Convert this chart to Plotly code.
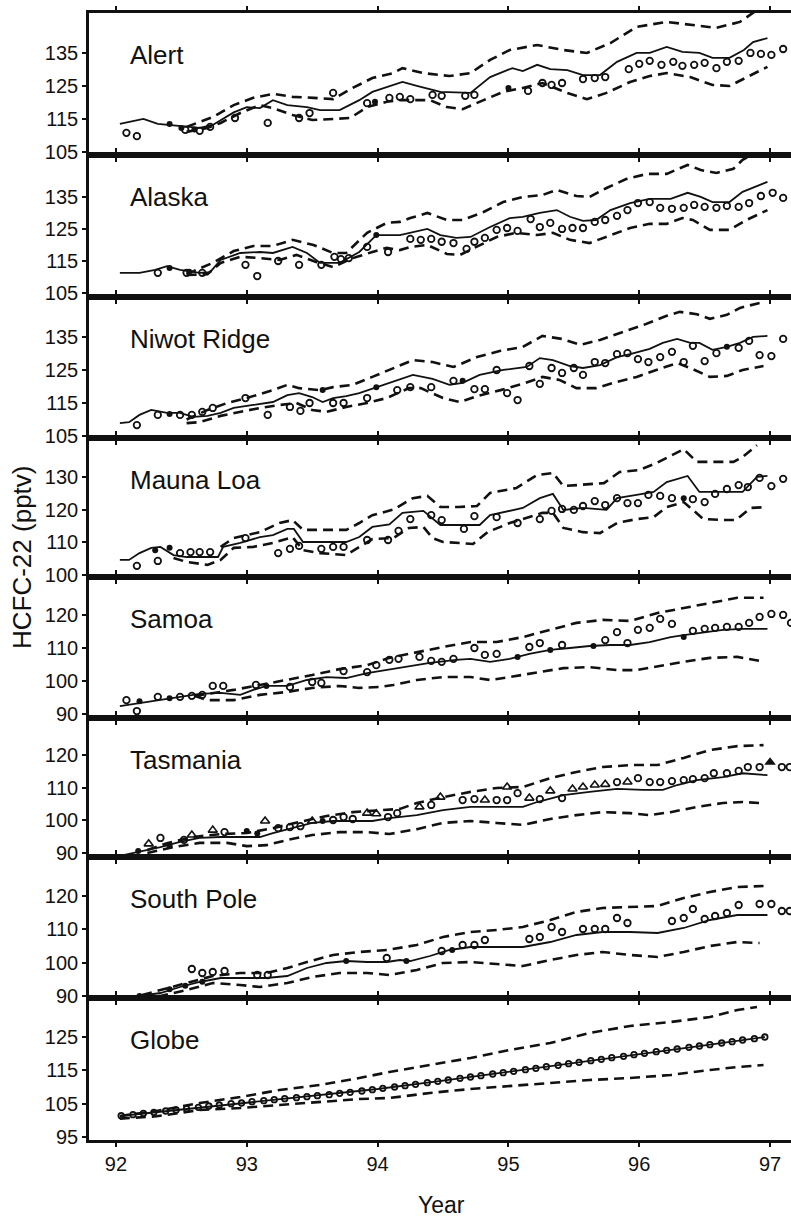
import plotly.graph_objects as go

# ---------------------------------------------------------------
# HCFC-22 mixing ratios (pptv) at surface stations, 1992-1997:
# solid = model, dashed = model upper/lower bounds, symbols = observations
# ---------------------------------------------------------------
STATIONS = ["Alert", "Alaska", "Niwot Ridge", "Mauna Loa",
            "Samoa", "Tasmania", "South Pole", "Globe"]
X_TICKS = [92, 93, 94, 95, 96, 97]
Y_TICKS = [[105, 115, 125, 135], [105, 115, 125, 135], [105, 115, 125, 135],
           [100, 110, 120, 130], [90, 100, 110, 120], [90, 100, 110, 120],
           [90, 100, 110, 120], [95, 105, 115, 125]]

# ---- Alert ----
ALERT_MODEL_YR = [92.03, 92.21, 92.32, 92.54, 92.64, 92.74, 92.90, 93.00, 93.10, 93.20,
                  93.31, 93.46, 93.56, 93.71, 93.86, 93.96, 94.07, 94.19, 94.30, 94.48,
                  94.71, 94.86, 95.03, 95.11, 95.22, 95.32, 95.45, 95.57, 95.70, 95.83,
                  95.98, 96.08, 96.21, 96.33, 96.46, 96.56, 96.69, 96.80, 96.87, 96.98]
ALERT_MODEL = [113.5, 115.0, 113.5, 112.6, 112.3, 113.2, 117.0, 118.6, 118.3, 120.7,
               119.2, 118.6, 117.7, 117.7, 120.7, 123.2, 124.7, 126.2, 125.0, 123.2,
               122.9, 127.7, 130.4, 129.5, 131.4, 130.1, 129.8, 128.3, 128.3, 132.3,
               135.0, 135.0, 136.8, 135.3, 135.0, 133.5, 133.5, 135.9, 138.3, 139.5]
ALERT_HI_YR = [92.54, 92.74, 92.90, 93.05, 93.20, 93.35, 93.51, 93.66, 93.81, 93.96,
               94.12, 94.19, 94.35, 94.55, 94.71, 94.86, 95.01, 95.22, 95.42, 95.60,
               95.78, 95.98, 96.21, 96.39, 96.59, 96.77, 96.90, 97.00]
ALERT_HI = [112.6, 115.6, 119.2, 121.4, 122.6, 121.7, 121.4, 121.0, 124.4, 127.4,
            128.9, 130.4, 128.9, 128.0, 128.9, 132.9, 135.9, 137.4, 135.9, 135.0,
            138.0, 142.9, 144.4, 143.5, 142.6, 144.4, 148.0, 150.0]
ALERT_LO_YR = [92.54, 92.70, 92.80, 92.95, 93.10, 93.20, 93.35, 93.50, 93.66, 93.79,
               93.92, 94.07, 94.17, 94.40, 94.53, 94.65, 94.81, 94.96, 95.11, 95.26,
               95.45, 95.60, 95.75, 95.93, 96.08, 96.21, 96.39, 96.56, 96.69, 96.82, 96.98]
ALERT_LO = [111.1, 112.3, 113.8, 116.8, 119.2, 118.3, 116.2, 114.7, 115.0, 115.3,
            118.6, 120.2, 120.7, 120.7, 118.6, 118.0, 120.7, 123.2, 124.4, 125.9,
            122.9, 121.0, 122.9, 126.2, 128.0, 128.9, 127.7, 125.3, 125.0, 127.7, 130.8]
ALERT_OBS_YR = [92.08, 92.16, 92.53, 92.64, 92.72, 92.91, 93.16, 93.40, 93.48, 93.66,
                93.92, 94.09, 94.17, 94.25, 94.42, 94.49, 94.67, 94.74, 95.15, 95.26,
                95.33, 95.41, 95.57, 95.66, 95.74, 95.92, 96.00, 96.08, 96.17, 96.26,
                96.33, 96.42, 96.50, 96.59, 96.67, 96.76, 96.85, 96.93, 97.01, 97.10]
ALERT_OBS = [110.8, 109.8, 111.7, 111.4, 112.6, 115.3, 113.8, 115.3, 116.8, 122.9,
             119.8, 121.4, 121.7, 121.0, 122.3, 122.0, 122.0, 122.3, 123.5, 125.9,
             125.3, 125.9, 127.1, 127.4, 127.7, 130.1, 131.7, 132.6, 131.4, 132.3,
             131.1, 131.4, 132.0, 130.4, 132.3, 132.6, 135.0, 134.7, 134.4, 136.2]
ALERT_DOT_YR = [92.41, 92.50, 92.60, 93.98, 95.00]
ALERT_DOT = [113.5, 112.3, 111.8, 120.2, 124.4]

# ---- Alaska ----
ALASKA_MODEL_YR = [92.03, 92.18, 92.30, 92.39, 92.49, 92.64, 92.72, 92.80, 92.95, 93.10,
                   93.20, 93.35, 93.46, 93.56, 93.71, 93.86, 93.99, 94.17, 94.38, 94.48,
                   94.60, 94.71, 94.86, 95.01, 95.11, 95.24, 95.37, 95.47, 95.57, 95.67,
                   95.78, 95.93, 96.08, 96.24, 96.37, 96.47, 96.56, 96.69, 96.79, 96.98]
ALASKA_MODEL = [111.3, 111.3, 112.2, 113.4, 112.2, 111.3, 111.5, 115.3, 117.5, 117.8,
                117.5, 119.4, 117.5, 114.4, 114.4, 117.8, 123.1, 123.1, 125.0, 123.1,
                122.2, 122.5, 125.6, 128.4, 128.8, 130.0, 130.9, 128.8, 127.5, 127.8,
                130.9, 133.1, 134.4, 134.4, 136.3, 135.0, 133.4, 133.4, 136.6, 139.7]
ALASKA_HI_YR = [92.54, 92.74, 92.90, 93.05, 93.20, 93.35, 93.51, 93.66, 93.76, 93.92,
                94.07, 94.17, 94.25, 94.38, 94.53, 94.65, 94.81, 94.96, 95.11, 95.26,
                95.37, 95.52, 95.62, 95.75, 95.90, 96.06, 96.21, 96.37, 96.47, 96.59,
                96.72, 96.79, 96.95]
ALASKA_HI = [110.9, 114.4, 118.1, 119.7, 119.7, 121.6, 120.0, 117.5, 117.5, 123.8,
             126.9, 127.2, 128.4, 130.0, 127.8, 127.8, 130.3, 133.4, 135.0, 135.6,
             137.2, 135.3, 135.0, 137.8, 140.6, 142.2, 142.2, 145.0, 143.4, 142.5,
             143.8, 146.6, 150.0]
ALASKA_LO_YR = [92.54, 92.70, 92.80, 92.95, 93.10, 93.25, 93.38, 93.53, 93.66, 93.81,
                93.96, 94.07, 94.17, 94.25, 94.38, 94.53, 94.63, 94.76, 94.91, 95.06,
                95.22, 95.34, 95.47, 95.62, 95.78, 95.93, 96.08, 96.21, 96.33, 96.41,
                96.54, 96.69, 96.82, 96.98]
ALASKA_LO = [110.6, 110.9, 114.4, 116.3, 115.9, 115.3, 116.9, 114.7, 113.1, 115.9,
             117.8, 119.1, 118.4, 119.4, 120.0, 117.2, 116.9, 119.4, 122.5, 123.8,
             123.1, 123.8, 121.6, 120.6, 123.1, 125.3, 126.6, 126.6, 128.4, 127.8,
             124.7, 124.7, 127.8, 130.9]
ALASKA_OBS_YR = [92.32, 92.54, 92.66, 92.99, 93.08, 93.24, 93.40, 93.57, 93.67, 93.72,
                 93.78, 93.92, 94.08, 94.25, 94.33, 94.41, 94.49, 94.58, 94.68, 94.74,
                 94.82, 94.91, 94.99, 95.07, 95.17, 95.24, 95.32, 95.41, 95.49, 95.57,
                 95.66, 95.74, 95.83, 95.91, 95.99, 96.08, 96.16, 96.25, 96.34, 96.42,
                 96.50, 96.59, 96.67, 96.76, 96.84, 96.93, 97.02, 97.10]
ALASKA_OBS = [111.3, 111.3, 111.3, 113.8, 110.3, 115.0, 113.8, 113.8, 116.3, 115.6,
              115.9, 119.4, 117.8, 121.9, 121.6, 121.9, 121.0, 120.6, 118.8, 121.0,
              122.2, 124.7, 125.3, 124.4, 128.1, 125.6, 126.9, 125.0, 125.3, 125.3,
              127.2, 127.8, 129.1, 130.9, 133.1, 133.4, 131.6, 131.3, 131.6, 132.5,
              131.9, 131.6, 132.2, 131.9, 133.1, 135.3, 136.3, 134.7]
ALASKA_DOT_YR = [92.41, 92.56, 93.99]
ALASKA_DOT = [112.8, 111.6, 123.1]

# ---- Niwot Ridge ----
NIWOT_MODEL_YR = [92.03, 92.10, 92.18, 92.27, 92.39, 92.49, 92.59, 92.70, 92.80, 92.90,
                  93.05, 93.20, 93.31, 93.40, 93.50, 93.58, 93.66, 93.76, 93.86, 93.99,
                  94.12, 94.27, 94.42, 94.55, 94.65, 94.78, 94.96, 95.14, 95.24, 95.34,
                  95.47, 95.57, 95.70, 95.83, 95.93, 96.08, 96.18, 96.29, 96.39, 96.46,
                  96.56, 96.67, 96.77, 96.87, 96.98]
NIWOT_MODEL = [108.9, 109.2, 111.4, 112.9, 112.0, 112.0, 110.8, 111.1, 112.0, 113.5,
               114.4, 115.3, 117.4, 118.0, 116.8, 115.3, 116.5, 117.1, 118.0, 119.8,
               121.5, 123.5, 122.3, 120.5, 121.1, 123.5, 125.0, 125.9, 128.6, 128.0,
               126.2, 125.6, 126.5, 128.9, 129.8, 131.4, 133.2, 134.4, 133.2, 133.2,
               131.1, 132.0, 133.2, 135.0, 135.3]
NIWOT_HI_YR = [92.54, 92.70, 92.85, 93.00, 93.20, 93.31, 93.40, 93.56, 93.66, 93.81,
               93.96, 94.12, 94.27, 94.42, 94.58, 94.76, 94.94, 95.11, 95.26, 95.41,
               95.55, 95.70, 95.85, 96.03, 96.21, 96.31, 96.44, 96.54, 96.67, 96.77,
               96.92]
NIWOT_HI = [110.0, 112.9, 115.0, 116.5, 118.9, 120.5, 119.5, 118.9, 119.8, 120.5,
            122.9, 125.5, 128.0, 127.4, 125.9, 128.9, 130.8, 132.0, 135.3, 134.4,
            132.6, 134.1, 136.2, 138.6, 141.4, 142.6, 141.9, 140.5, 141.7, 143.8,
            145.3]
NIWOT_LO_YR = [92.54, 92.64, 92.80, 92.95, 93.10, 93.25, 93.38, 93.50, 93.61, 93.76,
               93.92, 94.07, 94.24, 94.33, 94.50, 94.63, 94.76, 94.94, 95.11, 95.26,
               95.39, 95.52, 95.67, 95.83, 95.98, 96.13, 96.29, 96.39, 96.54, 96.67,
               96.79, 96.95]
NIWOT_LO = [108.9, 109.2, 111.1, 112.3, 113.5, 114.4, 115.0, 112.9, 112.3, 113.8,
            115.0, 116.5, 119.5, 119.5, 116.5, 115.3, 117.1, 118.9, 120.8, 122.9,
            122.0, 119.5, 119.5, 121.4, 122.9, 125.0, 127.1, 125.6, 122.9, 123.2,
            125.0, 126.2]
NIWOT_OBS_YR = [92.16, 92.32, 92.49, 92.58, 92.66, 92.74, 92.99, 93.16, 93.33, 93.41,
                93.48, 93.66, 93.74, 93.92, 94.15, 94.25, 94.41, 94.58, 94.74, 94.82,
                94.91, 94.99, 95.07, 95.16, 95.24, 95.33, 95.41, 95.50, 95.57, 95.66,
                95.74, 95.83, 95.91, 95.99, 96.07, 96.16, 96.25, 96.34, 96.41, 96.50,
                96.59, 96.76, 96.84, 96.92, 97.01, 97.10]
NIWOT_OBS = [108.3, 111.4, 111.4, 111.4, 112.3, 113.5, 116.5, 111.4, 113.8, 112.6,
             115.0, 115.0, 115.0, 116.5, 118.9, 119.8, 119.8, 121.7, 119.2, 119.2,
             125.0, 118.0, 115.9, 126.2, 120.8, 125.6, 124.1, 125.6, 123.5, 127.4,
             127.1, 129.8, 130.1, 128.3, 127.4, 128.9, 130.5, 127.4, 132.3, 127.7,
             130.1, 131.7, 133.8, 129.5, 129.2, 134.4]
NIWOT_DOT_YR = [92.41, 93.58, 93.99, 94.65, 96.67]
NIWOT_DOT = [111.7, 118.9, 119.8, 121.7, 132.0]

# ---- Mauna Loa ----
MAUNA_MODEL_YR = [92.03, 92.10, 92.18, 92.27, 92.34, 92.44, 92.54, 92.64, 92.78, 92.82,
                  92.95, 93.10, 93.20, 93.31, 93.36, 93.43, 93.56, 93.76, 93.86, 93.96,
                  94.09, 94.19, 94.35, 94.48, 94.60, 94.78, 94.86, 95.11, 95.24, 95.34,
                  95.42, 95.57, 95.75, 95.83, 95.98, 96.11, 96.21, 96.37, 96.46, 96.64,
                  96.79, 96.90, 96.98]
MAUNA_MODEL = [104.6, 104.6, 106.7, 108.3, 108.6, 106.1, 105.5, 105.5, 105.5, 108.6,
               109.8, 111.6, 112.2, 114.1, 114.1, 110.1, 110.1, 110.1, 111.6, 114.7,
               115.5, 119.0, 119.6, 115.3, 115.3, 115.3, 118.3, 120.5, 123.5, 124.8,
               119.9, 120.5, 119.9, 123.5, 124.5, 125.4, 128.4, 130.3, 125.4, 125.4,
               125.4, 130.0, 130.3]
MAUNA_HI_YR = [92.80, 92.90, 93.10, 93.25, 93.35, 93.43, 93.56, 93.76, 93.86, 93.96,
               94.12, 94.27, 94.38, 94.48, 94.62, 94.76, 94.86, 95.06, 95.22, 95.34,
               95.42, 95.63, 95.73, 95.85, 96.00, 96.13, 96.34, 96.44, 96.60, 96.72,
               96.79, 96.90]
MAUNA_HI = [108.6, 111.3, 113.1, 115.9, 116.8, 113.8, 113.8, 113.8, 115.9, 118.3,
            120.0, 123.5, 124.2, 120.8, 120.8, 121.1, 125.1, 126.6, 130.6, 131.2,
            127.2, 127.8, 128.1, 131.5, 132.1, 134.2, 138.5, 134.6, 134.6, 134.6,
            136.1, 139.7]
MAUNA_LO_YR = [92.44, 92.54, 92.70, 92.80, 92.90, 93.05, 93.20, 93.35, 93.43, 93.56,
               93.76, 93.86, 93.96, 94.12, 94.24, 94.35, 94.42, 94.50, 94.73, 94.84,
               95.01, 95.26, 95.34, 95.42, 95.57, 95.70, 95.83, 95.98, 96.11, 96.21,
               96.34, 96.41, 96.49, 96.64, 96.74, 96.85, 96.98]
MAUNA_LO = [105.2, 104.0, 103.1, 104.6, 108.3, 108.6, 109.8, 111.6, 107.6, 106.7,
            106.1, 108.6, 111.0, 111.3, 114.4, 114.7, 111.3, 110.1, 109.5, 113.1,
            115.9, 119.0, 119.0, 114.4, 113.1, 112.8, 115.9, 117.1, 117.7, 120.8,
            122.3, 119.9, 117.1, 116.8, 116.8, 120.5, 120.8]
MAUNA_OBS_YR = [92.16, 92.32, 92.49, 92.57, 92.64, 92.72, 92.99, 93.24, 93.33, 93.40,
                93.57, 93.66, 93.74, 93.92, 94.08, 94.16, 94.25, 94.41, 94.49, 94.66,
                94.74, 94.91, 95.07, 95.24, 95.33, 95.41, 95.50, 95.57, 95.66, 95.74,
                95.83, 95.91, 95.99, 96.07, 96.16, 96.25, 96.41, 96.50, 96.58, 96.67,
                96.76, 96.83, 96.92, 97.01, 97.10]
MAUNA_OBS = [102.8, 104.3, 106.7, 107.0, 107.0, 107.0, 111.3, 106.7, 108.0, 108.9,
             108.0, 108.6, 108.6, 110.7, 110.7, 113.5, 117.1, 118.3, 116.8, 114.1,
             118.0, 117.7, 115.9, 117.1, 119.6, 120.2, 119.9, 121.1, 122.6, 121.4,
             123.5, 122.0, 122.0, 124.5, 124.2, 123.5, 123.2, 122.3, 124.8, 126.3,
             127.5, 126.9, 129.7, 127.2, 129.4]
MAUNA_DOT_YR = [92.30, 92.41, 96.34]
MAUNA_DOT = [107.6, 108.3, 123.5]

# ---- Samoa ----
SAMOA_MODEL_YR = [92.03, 92.18, 92.34, 92.49, 92.64, 92.80, 92.95, 93.05, 93.15, 93.31,
                  93.46, 93.61, 93.76, 93.92, 94.07, 94.25, 94.40, 94.60, 94.71, 94.86,
                  95.01, 95.16, 95.32, 95.47, 95.62, 95.78, 95.93, 96.08, 96.24, 96.34,
                  96.49, 96.64, 96.79, 96.98]
SAMOA_MODEL = [92.4, 93.3, 94.2, 95.2, 96.1, 96.4, 95.8, 97.3, 98.5, 98.5,
               100.3, 101.2, 100.9, 102.4, 103.3, 104.5, 105.5, 106.4, 106.7, 105.8,
               106.7, 108.2, 109.4, 110.0, 110.6, 110.9, 110.9, 111.8, 113.3, 113.9,
               114.8, 115.5, 115.8, 115.8]
SAMOA_HI_YR = [92.60, 92.70, 92.90, 93.10, 93.31, 93.50, 93.71, 93.92, 94.09, 94.30,
               94.50, 94.71, 94.91, 95.11, 95.32, 95.52, 95.72, 95.93, 96.14, 96.34,
               96.54, 96.75, 96.95]
SAMOA_HI = [95.5, 96.1, 97.3, 98.8, 100.3, 101.8, 103.6, 104.8, 107.0, 108.8,
            110.3, 111.8, 111.8, 113.3, 115.5, 117.6, 118.5, 118.2, 120.6, 122.1,
            123.6, 125.2, 125.2]
SAMOA_LO_YR = [92.60, 92.70, 92.90, 93.10, 93.31, 93.50, 93.71, 93.86, 94.02, 94.12,
               94.30, 94.50, 94.71, 94.86, 95.01, 95.22, 95.42, 95.62, 95.83, 95.98,
               96.14, 96.34, 96.54, 96.75, 96.92]
SAMOA_LO = [95.5, 94.2, 94.2, 95.8, 96.7, 97.9, 98.5, 97.9, 98.2, 98.8,
            100.3, 101.2, 101.2, 100.3, 101.2, 102.7, 103.9, 104.2, 103.3, 103.3,
            104.5, 105.8, 107.0, 107.3, 106.1]
SAMOA_OBS_YR = [92.08, 92.16, 92.32, 92.49, 92.58, 92.66, 92.74, 92.82, 93.07, 93.33,
                93.50, 93.57, 93.74, 93.92, 93.99, 94.09, 94.16, 94.32, 94.41, 94.49,
                94.58, 94.74, 94.82, 94.91, 95.16, 95.24, 95.41, 95.74, 95.83, 95.91,
                95.99, 96.08, 96.16, 96.25, 96.41, 96.50, 96.58, 96.67, 96.76, 96.84,
                96.92, 97.01, 97.10, 97.16]
SAMOA_OBS = [94.2, 90.9, 95.2, 95.2, 95.5, 95.8, 98.5, 98.5, 98.8, 98.2,
             99.7, 99.4, 103.0, 102.7, 104.8, 106.4, 106.7, 107.3, 106.1, 105.8,
             106.7, 110.0, 107.9, 108.2, 110.3, 111.5, 110.9, 112.4, 114.8, 111.5,
             115.5, 116.1, 118.8, 117.3, 115.2, 115.8, 116.1, 116.4, 116.4, 117.6,
             119.4, 120.3, 120.0, 117.6]
SAMOA_DOT_YR = [92.18, 92.41, 93.15, 95.07, 95.32, 95.65, 96.34]
SAMOA_DOT = [93.9, 94.8, 98.5, 107.3, 109.4, 110.6, 113.3]

# ---- Tasmania ----
TASMANIA_MODEL_YR = [92.03, 92.18, 92.34, 92.49, 92.64, 92.80, 92.95, 93.10, 93.20, 93.35,
                     93.50, 93.66, 93.81, 93.96, 94.09, 94.30, 94.50, 94.71, 94.91, 95.11,
                     95.22, 95.42, 95.62, 95.83, 96.03, 96.18, 96.29, 96.44, 96.64, 96.79,
                     96.98]
TASMANIA_MODEL = [89.1, 90.3, 91.8, 93.4, 94.6, 94.9, 94.9, 94.9, 96.1, 97.6,
                  99.2, 99.8, 99.8, 99.8, 100.7, 101.6, 103.1, 104.1, 104.1, 104.1,
                  105.6, 107.7, 108.7, 109.6, 109.3, 109.3, 110.8, 112.3, 113.2, 114.4,
                  113.8]
TASMANIA_HI_YR = [92.24, 92.39, 92.59, 92.80, 93.00, 93.20, 93.40, 93.61, 93.81, 94.02,
                  94.17, 94.30, 94.50, 94.71, 94.91, 95.11, 95.32, 95.52, 95.72, 95.93,
                  96.14, 96.34, 96.54, 96.75, 96.95]
TASMANIA_HI = [90.9, 93.0, 94.9, 95.8, 96.1, 97.6, 99.5, 101.3, 102.5, 103.1,
               103.5, 105.3, 107.1, 108.7, 109.9, 110.2, 112.9, 114.8, 116.3, 116.9,
               116.9, 119.1, 121.5, 122.7, 123.0]
TASMANIA_LO_YR = [92.24, 92.44, 92.64, 92.85, 93.00, 93.15, 93.31, 93.50, 93.71, 93.92,
                  94.09, 94.30, 94.50, 94.71, 94.91, 95.11, 95.32, 95.52, 95.72, 95.93,
                  96.08, 96.24, 96.44, 96.64, 96.79, 96.92]
TASMANIA_LO = [90.0, 91.8, 93.1, 93.1, 92.1, 92.4, 94.0, 95.5, 96.4, 96.4,
               95.8, 97.3, 99.2, 99.8, 99.2, 98.6, 100.4, 101.6, 102.5, 102.2,
               101.6, 102.5, 104.1, 105.3, 105.6, 105.3]
TASMANIA_OBS_YR = [92.34, 92.52, 92.83, 93.24, 93.33, 93.41, 93.66, 93.74, 93.81, 94.08,
                   94.15, 94.41, 94.65, 94.74, 94.91, 94.99, 95.07, 95.24, 95.41, 95.83,
                   95.99, 96.08, 96.16, 96.25, 96.34, 96.41, 96.50, 96.57, 96.67, 96.76,
                   96.83, 96.92, 97.09, 97.15]
TASMANIA_OBS = [94.6, 94.0, 96.4, 97.6, 97.9, 98.2, 100.1, 101.0, 100.4, 101.0,
                102.2, 104.7, 106.2, 106.5, 106.2, 106.2, 108.3, 106.5, 106.8, 111.7,
                112.9, 111.7, 111.7, 112.0, 112.3, 112.6, 112.9, 114.4, 114.4, 115.1,
                116.3, 116.3, 116.3, 116.3]
TASMANIA_TRI_YR = [92.25, 92.58, 92.74, 93.14, 93.50, 93.92, 93.99, 94.32, 94.48, 94.82,
                   94.99, 95.16, 95.32, 95.49, 95.57, 95.66, 95.74, 95.91]
TASMANIA_TRI = [92.8, 95.5, 97.0, 99.8, 99.8, 102.2, 102.0, 104.1, 107.1, 106.2,
                110.2, 106.8, 109.0, 109.6, 110.2, 110.8, 111.0, 111.7]
TASMANIA_DOT_YR = [92.17, 92.41, 93.00, 93.08, 93.58]
TASMANIA_DOT = [90.6, 92.2, 96.7, 96.0, 99.8]
TASMANIA_FILLED_TRI_YR = [97.00]
TASMANIA_FILLED_TRI = [117.8]

# ---- South Pole ----
SPOLE_MODEL_YR = [92.03, 92.18, 92.34, 92.49, 92.64, 92.80, 92.95, 93.15, 93.31, 93.46,
                  93.61, 93.76, 93.92, 94.07, 94.17, 94.25, 94.40, 94.55, 94.71, 94.91,
                  95.11, 95.32, 95.52, 95.72, 95.93, 96.14, 96.34, 96.54, 96.75, 96.98]
SPOLE_MODEL = [89.7, 90.0, 90.9, 92.7, 94.2, 95.4, 95.4, 95.4, 96.0, 98.4,
               99.9, 100.5, 100.2, 100.2, 100.8, 100.5, 102.0, 103.8, 104.7, 104.7,
               104.7, 106.2, 108.3, 109.2, 109.2, 108.9, 110.4, 112.8, 114.3, 114.3]
SPOLE_HI_YR = [92.20, 92.34, 92.54, 92.74, 92.95, 93.15, 93.31, 93.46, 93.66, 93.86,
               94.07, 94.30, 94.50, 94.71, 94.91, 95.11, 95.32, 95.52, 95.72, 95.93,
               96.14, 96.34, 96.54, 96.75, 96.95]
SPOLE_HI = [90.3, 91.8, 93.9, 96.0, 96.9, 96.9, 98.4, 100.2, 102.3, 103.2,
            103.8, 105.3, 107.7, 109.2, 109.8, 110.7, 112.8, 115.2, 116.4, 116.7,
            117.0, 119.4, 121.2, 122.7, 123.0]
SPOLE_LO_YR = [92.20, 92.34, 92.54, 92.74, 92.95, 93.10, 93.31, 93.50, 93.71, 93.92,
               94.09, 94.30, 94.50, 94.71, 94.91, 95.11, 95.32, 95.52, 95.72, 95.93,
               96.14, 96.34, 96.54, 96.75, 96.92]
SPOLE_LO = [90.0, 90.0, 91.8, 93.9, 93.3, 92.7, 93.9, 95.7, 96.9, 96.9,
            96.3, 97.8, 99.9, 100.2, 99.6, 99.0, 100.8, 102.3, 103.2, 102.3,
            101.7, 103.2, 105.0, 106.2, 105.9]
SPOLE_OBS_YR = [92.58, 92.66, 92.74, 92.83, 93.08, 93.16, 94.07, 94.49, 94.65, 94.74,
                94.82, 95.16, 95.24, 95.33, 95.41, 95.57, 95.66, 95.74, 95.83, 95.91,
                96.25, 96.34, 96.41, 96.50, 96.58, 96.67, 96.76, 96.92, 97.01, 97.09,
                97.15]
SPOLE_OBS = [98.1, 96.9, 97.2, 97.5, 96.3, 96.3, 101.4, 103.5, 105.3, 105.3,
             106.8, 107.1, 107.7, 110.7, 109.2, 110.1, 110.1, 110.1, 113.4, 111.9,
             112.5, 113.4, 116.1, 113.1, 114.0, 114.9, 117.3, 117.6, 117.6, 115.5,
             115.5]
SPOLE_DOT_YR = [92.18, 92.41, 92.53, 92.66, 93.76, 94.22, 94.57]
SPOLE_DOT = [90.0, 92.0, 93.1, 94.3, 100.5, 100.5, 103.8]

# ---- Globe ----
GLOBE_MODEL_YR = [92.03, 92.50, 93.00, 93.50, 94.00, 94.50, 95.00, 95.50, 96.00, 96.50, 96.96]
GLOBE_MODEL = [101.3, 103.2, 105.3, 107.2, 109.4, 111.9, 114.5, 117.2, 119.9, 122.5, 125.0]
GLOBE_HI_YR = [92.03, 92.31, 92.64, 92.95, 93.25, 93.56, 93.86, 94.09, 94.40, 94.71,
               95.01, 95.32, 95.62, 95.93, 96.24, 96.54, 96.75, 96.90]
GLOBE_HI = [101.3, 102.8, 105.2, 107.0, 109.1, 110.6, 112.7, 114.5, 116.6, 118.7,
            121.1, 123.2, 126.2, 128.3, 129.5, 131.0, 133.1, 134.0]
GLOBE_LO_YR = [92.03, 92.31, 92.64, 92.95, 93.25, 93.56, 93.86, 94.09, 94.40, 94.71,
               95.01, 95.32, 95.62, 95.93, 96.24, 96.54, 96.75, 96.95]
GLOBE_LO = [100.5, 101.2, 103.1, 103.7, 104.6, 105.5, 106.4, 106.7, 108.2, 109.4,
            110.3, 111.2, 112.1, 112.7, 113.6, 115.1, 116.0, 116.6]
GLOBE_OBS_YR = [92.04, 92.13, 92.21, 92.29, 92.38, 92.46, 92.54, 92.63, 92.71, 92.79,
                92.88, 92.96, 93.04, 93.13, 93.21, 93.29, 93.38, 93.46, 93.54, 93.63,
                93.71, 93.79, 93.88, 93.96, 94.04, 94.13, 94.21, 94.29, 94.38, 94.46,
                94.54, 94.63, 94.71, 94.79, 94.88, 94.96, 95.04, 95.13, 95.21, 95.29,
                95.38, 95.46, 95.54, 95.63, 95.71, 95.79, 95.88, 95.96, 96.04, 96.13,
                96.21, 96.29, 96.38, 96.46, 96.54, 96.63, 96.71, 96.79, 96.88, 96.96]
GLOBE_OBS = [101.4, 101.7, 102.1, 102.4, 102.8, 103.1, 103.5, 103.9, 104.3, 104.6,
             105.0, 105.2, 105.6, 105.9, 106.2, 106.5, 106.8, 107.1, 107.4, 107.7,
             108.1, 108.4, 108.8, 109.2, 109.6, 110.0, 110.4, 110.8, 111.3, 111.7,
             112.1, 112.6, 113.0, 113.4, 113.9, 114.3, 114.7, 115.2, 115.6, 116.1,
             116.5, 117.0, 117.4, 117.9, 118.3, 118.8, 119.2, 119.7, 120.1, 120.6,
             121.0, 121.4, 121.9, 122.3, 122.7, 123.2, 123.6, 124.1, 124.5, 125.0]

PANELS = [
    dict(model=(ALERT_MODEL_YR, ALERT_MODEL), hi=(ALERT_HI_YR, ALERT_HI),
         lo=(ALERT_LO_YR, ALERT_LO), obs=(ALERT_OBS_YR, ALERT_OBS), dot=(ALERT_DOT_YR, ALERT_DOT)),
    dict(model=(ALASKA_MODEL_YR, ALASKA_MODEL), hi=(ALASKA_HI_YR, ALASKA_HI),
         lo=(ALASKA_LO_YR, ALASKA_LO), obs=(ALASKA_OBS_YR, ALASKA_OBS), dot=(ALASKA_DOT_YR, ALASKA_DOT)),
    dict(model=(NIWOT_MODEL_YR, NIWOT_MODEL), hi=(NIWOT_HI_YR, NIWOT_HI),
         lo=(NIWOT_LO_YR, NIWOT_LO), obs=(NIWOT_OBS_YR, NIWOT_OBS), dot=(NIWOT_DOT_YR, NIWOT_DOT)),
    dict(model=(MAUNA_MODEL_YR, MAUNA_MODEL), hi=(MAUNA_HI_YR, MAUNA_HI),
         lo=(MAUNA_LO_YR, MAUNA_LO), obs=(MAUNA_OBS_YR, MAUNA_OBS), dot=(MAUNA_DOT_YR, MAUNA_DOT)),
    dict(model=(SAMOA_MODEL_YR, SAMOA_MODEL), hi=(SAMOA_HI_YR, SAMOA_HI),
         lo=(SAMOA_LO_YR, SAMOA_LO), obs=(SAMOA_OBS_YR, SAMOA_OBS), dot=(SAMOA_DOT_YR, SAMOA_DOT)),
    dict(model=(TASMANIA_MODEL_YR, TASMANIA_MODEL), hi=(TASMANIA_HI_YR, TASMANIA_HI),
         lo=(TASMANIA_LO_YR, TASMANIA_LO), obs=(TASMANIA_OBS_YR, TASMANIA_OBS),
         dot=(TASMANIA_DOT_YR, TASMANIA_DOT), tri=(TASMANIA_TRI_YR, TASMANIA_TRI),
         ftri=(TASMANIA_FILLED_TRI_YR, TASMANIA_FILLED_TRI)),
    dict(model=(SPOLE_MODEL_YR, SPOLE_MODEL), hi=(SPOLE_HI_YR, SPOLE_HI),
         lo=(SPOLE_LO_YR, SPOLE_LO), obs=(SPOLE_OBS_YR, SPOLE_OBS), dot=(SPOLE_DOT_YR, SPOLE_DOT)),
    dict(model=(GLOBE_MODEL_YR, GLOBE_MODEL), hi=(GLOBE_HI_YR, GLOBE_HI),
         lo=(GLOBE_LO_YR, GLOBE_LO), obs=(GLOBE_OBS_YR, GLOBE_OBS), small=True),
]

# ---------------- layout geometry ----------------
W, H = 791, 1220
M_L, M_R, M_T, M_B = 89, 0, 13, 80
PLOT_H = H - M_T - M_B
EDGES_PX = [13, 155, 297, 438, 577, 718, 857, 998, 1140]   # panel borders (page px)
Y_RANGES = [[104.09, 147.1], [103.75, 148.1], [104.4, 147.1], [99.39, 141.9],
            [88.79, 131.5], [88.78, 131.3], [89.4, 131.7], [94.1, 136.7]]
X_RANGE = [91.794, 97.16]


def py2paper(py):
    return (H - M_B - py) / PLOT_H


FONT = "Liberation Sans, Arial, Helvetica, sans-serif"
INK = "#111111"

fig = go.Figure()
layout = dict(
    width=W, height=H, margin=dict(l=M_L, r=M_R, t=M_T, b=M_B),
    paper_bgcolor="white", plot_bgcolor="white", showlegend=False,
    font=dict(family=FONT, color=INK),
)
annotations = []

for i, p in enumerate(PANELS):
    n = i + 1
    xa = "x" if n == 1 else f"x{n}"
    ya = "y" if n == 1 else f"y{n}"
    xkey = "xaxis" if n == 1 else f"xaxis{n}"
    ykey = "yaxis" if n == 1 else f"yaxis{n}"
    top_px, bot_px = EDGES_PX[i], EDGES_PX[i + 1]

    dash_style = dict(color=INK, width=2.6, dash="10px,6px")
    fig.add_trace(go.Scatter(x=p["hi"][0], y=p["hi"][1], mode="lines",
                             line=dash_style, xaxis=xa, yaxis=ya))
    fig.add_trace(go.Scatter(x=p["lo"][0], y=p["lo"][1], mode="lines",
                             line=dash_style, xaxis=xa, yaxis=ya))
    fig.add_trace(go.Scatter(x=p["model"][0], y=p["model"][1], mode="lines",
                             line=dict(color=INK, width=1.8), xaxis=xa, yaxis=ya))
    osize = 5.5 if p.get("small") else 6.5
    fig.add_trace(go.Scatter(x=p["obs"][0], y=p["obs"][1], mode="markers",
                             marker=dict(symbol="circle-open", size=osize, color=INK,
                                         line=dict(color=INK, width=1.8)),
                             xaxis=xa, yaxis=ya))
    if "dot" in p:
        fig.add_trace(go.Scatter(x=p["dot"][0], y=p["dot"][1], mode="markers",
                                 marker=dict(symbol="circle", size=6, color=INK),
                                 xaxis=xa, yaxis=ya))
    if "tri" in p:
        fig.add_trace(go.Scatter(x=p["tri"][0], y=p["tri"][1], mode="markers",
                                 marker=dict(symbol="triangle-up-open", size=8, color=INK,
                                             line=dict(color=INK, width=1.6)),
                                 xaxis=xa, yaxis=ya))
    if "ftri" in p:
        fig.add_trace(go.Scatter(x=p["ftri"][0], y=p["ftri"][1], mode="markers",
                                 marker=dict(symbol="triangle-up", size=10, color=INK),
                                 xaxis=xa, yaxis=ya))

    last = (n == len(PANELS))
    layout[xkey] = dict(
        domain=[0, 1], anchor=ya, range=X_RANGE, showgrid=False, zeroline=False,
        showline=True, linecolor=INK, linewidth=2.8, mirror="ticks",
        ticks="outside", ticklen=4, tickwidth=1.6, tickcolor=INK,
        tickvals=X_TICKS, ticktext=[str(v) for v in X_TICKS],
        showticklabels=last, tickfont=dict(size=20, family=FONT, color=INK),
    )
    layout[ykey] = dict(
        domain=[py2paper(bot_px), py2paper(top_px)], anchor=xa, range=Y_RANGES[i],
        showgrid=False, zeroline=False, showline=True, linecolor=INK, linewidth=2.6,
        ticks="outside", ticklen=4, tickwidth=1.6, tickcolor=INK,
        tickvals=Y_TICKS[i], ticktext=[str(v) for v in Y_TICKS[i]],
        tickfont=dict(size=20, family=FONT, color=INK),
    )
    annotations.append(dict(
        text=STATIONS[i], xref="paper", yref="paper",
        x=(128 - M_L) / (W - M_L - M_R), y=py2paper(top_px + 42),
        xanchor="left", yanchor="middle", showarrow=False,
        font=dict(size=26, family=FONT, color=INK),
    ))

annotations.append(dict(
    text="HCFC-22 (pptv)", xref="paper", yref="paper",
    x=(22 - M_L) / (W - M_L - M_R), y=py2paper(558), xanchor="center", yanchor="middle",
    textangle=-90, showarrow=False, font=dict(size=26, family=FONT, color=INK),
))
annotations.append(dict(
    text="Year", xref="paper", yref="paper",
    x=(442 - M_L) / (W - M_L - M_R), y=py2paper(1219), xanchor="center", yanchor="bottom",
    showarrow=False, borderpad=0, font=dict(size=23, family=FONT, color=INK),
))
layout["annotations"] = annotations

fig.update_layout(**layout)
fig.write_html("out.html")
